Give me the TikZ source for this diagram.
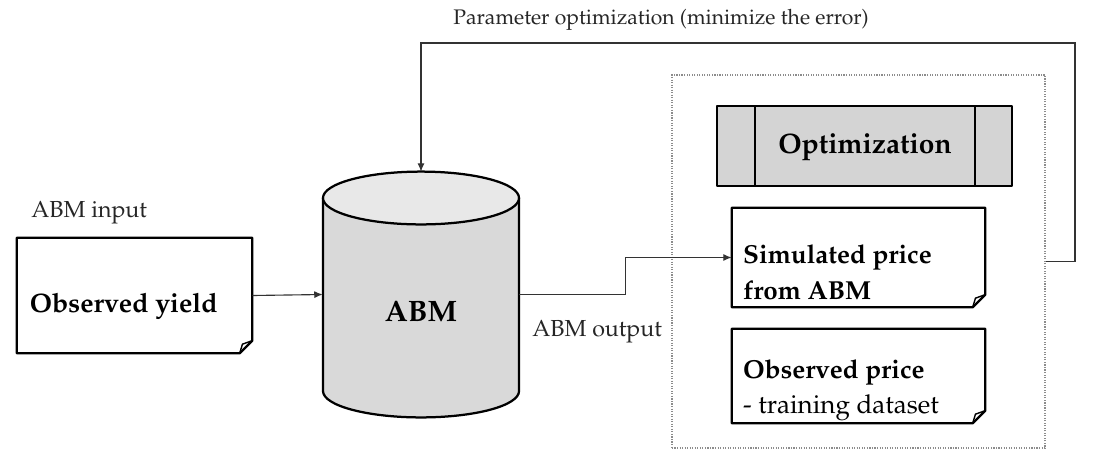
\documentclass[tikz,border=0pt]{standalone}
\usepackage[T1]{fontenc}
\usepackage{mathpazo}
\usetikzlibrary{arrows.meta,positioning}

\tikzset{
  pagebox/.style={rectangle, minimum width=#1, inner sep=0pt},
  boxline/.style={line width=1.6pt, line join=round},
  link/.style={line width=0.8pt, draw=black!80, -{Latex[length=6pt,width=5pt]}},
  boldtext/.style={font=\fontsize{18.5}{25}\selectfont\bfseries, align=left, inner sep=0pt},
  plaintext/.style={font=\fontsize{16.5}{20}\selectfont, inner sep=0pt, text=black!85},
}

% folded page outline round a named node
\newcommand{\pageoutline}[1]{%
  \draw[boxline, fill=white] (#1.north west) -- (#1.north east) -- ([yshift=9pt]#1.south east)
    -- ([xshift=-9pt]#1.south east) -- (#1.south west) -- cycle;
  \draw[line width=1pt] ([xshift=-9pt]#1.south east) -- ([xshift=-7pt,yshift=6.5pt]#1.south east)
    -- ([yshift=9pt]#1.south east);
}

\begin{document}
\begin{tikzpicture}[x=0.025cm, y=-0.025cm]
    \useasboundingbox (0,0) rectangle (1098,469);

    % ABM input
    \node[pagebox=5.875cm, minimum height=2.875cm] (yield) at (134.5,295.5) {};
    \pageoutline{yield}
    \node[plaintext, anchor=west] (inputlbl) at (31,213) {ABM input};
    \node[boldtext, anchor=west, font=\fontsize{19}{25}\selectfont\bfseries] (yieldtxt) at ([xshift=9.2pt,yshift=-8pt]yield.west) {Observed yield};

    % ABM cylinder
    \node[rectangle, minimum width=4.9cm, minimum height=6.125cm, inner sep=0pt] (abm) at (421,294.5) {};
    \fill[black!15] (323,198) -- (323,391) arc[start angle=180, end angle=360, x radius=2.45cm, y radius=0.66cm] -- (519,198) -- cycle;
    \draw[boxline] (323,198) -- (323,391) arc[start angle=180, end angle=360, x radius=2.45cm, y radius=0.66cm] -- (519,198);
    \filldraw[boxline, fill=black!9] (421,198) ellipse [x radius=2.45cm, y radius=0.66cm];
    \node[boldtext, font=\fontsize{21}{25}\selectfont\bfseries] (abmtxt) at (421,311) {ABM};

    % optimization panel
    \node[rectangle, draw=black!45, densely dotted, line width=0.8pt, minimum width=9.325cm, minimum height=9.325cm] (panel) at (858.5,261.5) {};

    \node[rectangle, draw, boxline, fill=black!17, minimum width=7.375cm, minimum height=2cm] (optim) at (864.5,146) {};
    \draw[boxline] (755,106) -- (755,186);
    \draw[boxline] (975,106) -- (975,186);
    \node[boldtext, font=\fontsize{20}{25}\selectfont\bfseries] (optimtxt) at (865,147) {Optimization};

    \node[pagebox=6.325cm, minimum height=2.475cm] (sim) at (858.5,257.5) {};
    \pageoutline{sim}
    \node[boldtext, anchor=west] (simtxt) at ([xshift=8pt,yshift=-10.5pt]sim.west) {Simulated price\\from ABM};

    \node[pagebox=6.325cm, minimum height=2.35cm] (obs) at (858.5,376) {};
    \pageoutline{obs}
    \node[boldtext, anchor=west] (obstxt) at ([xshift=8pt,yshift=-10pt]obs.west) {Observed price\\\mdseries - training dataset};

    % connectors
    \draw[link] (yield.east) -- (abm.west);
    \draw[link] (abm.east) -- ++(106,0) |- (sim.west);
    \node[plaintext, anchor=west] (outputlbl) at (532,332) {ABM output};

    \coordinate (fbcorner) at (1075,43);
    \draw[link] (panel.east) -| (fbcorner) -| (abm.north);
    \node[plaintext, font=\fontsize{15}{18}\selectfont] (fblbl) at (661,20) {Parameter optimization (minimize the error)};
\end{tikzpicture}
\end{document}
